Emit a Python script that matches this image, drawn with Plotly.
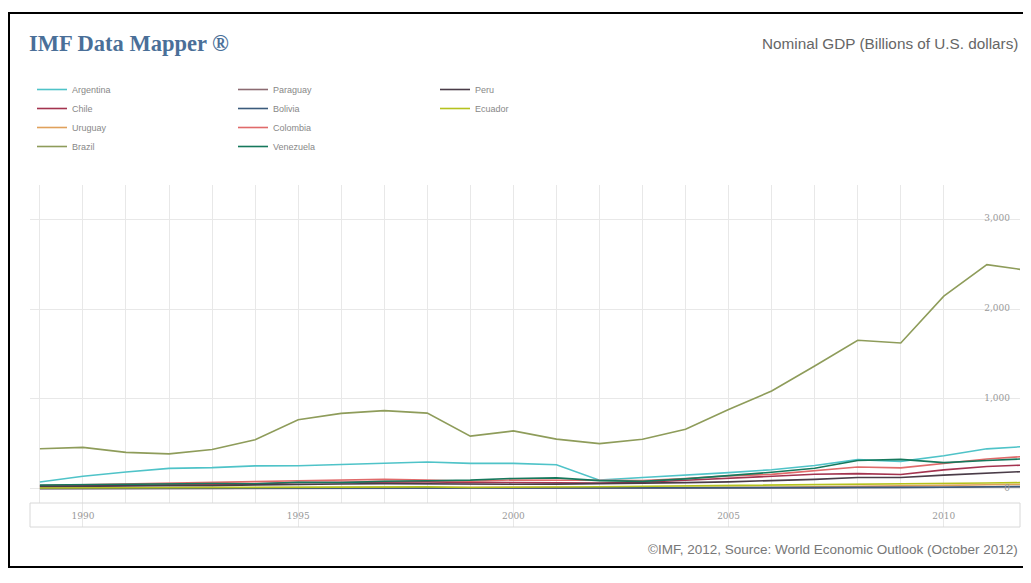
import plotly.graph_objects as go

years = list(range(1989, 2013))

argentina = [77, 141, 189, 229, 237, 257, 258, 272, 293, 299, 284, 284, 269, 98, 128, 152, 182, 214, 260, 326, 307, 369, 446, 475]
chile = [29, 33, 37, 45, 47, 56, 72, 76, 83, 79, 73, 75, 69, 67, 74, 96, 118, 146, 164, 171, 160, 212, 249, 268]
uruguay = [8.4, 9.3, 11.2, 12.9, 15.0, 17.5, 19.3, 20.5, 21.7, 22.4, 21.0, 20.1, 18.6, 12.1, 11.2, 13.7, 17.4, 19.6, 23.4, 30.4, 31.7, 39.4, 46.9, 50.0]
brazil = [447, 462, 407, 390, 438, 546, 769, 840, 871, 843, 587, 645, 554, 504, 553, 663, 882, 1089, 1366, 1653, 1622, 2143, 2493, 2425]
paraguay = [4.0, 5.3, 6.3, 6.4, 6.6, 7.6, 8.8, 9.4, 9.6, 8.8, 7.8, 7.7, 7.0, 5.1, 5.6, 7.0, 7.5, 9.3, 12.2, 16.9, 14.2, 18.3, 23.8, 25.5]
bolivia = [4.7, 4.9, 5.3, 5.6, 5.7, 6.0, 6.7, 7.4, 7.9, 8.5, 8.3, 8.4, 8.2, 7.9, 8.1, 8.8, 9.5, 11.5, 13.1, 16.7, 17.3, 19.8, 24.0, 26.7]
colombia = [39, 47, 49, 58, 66, 81, 92, 97, 106, 98, 86, 100, 98, 97, 94, 117, 146, 162, 207, 244, 234, 287, 333, 366]
venezuela = [43, 48, 53, 60, 60, 58, 75, 70, 86, 91, 98, 117, 123, 93, 84, 112, 146, 185, 230, 316, 329, 293, 316, 338]
peru = [26, 26, 34, 36, 35, 45, 53, 55, 59, 56, 51, 53, 54, 57, 61, 70, 79, 92, 107, 127, 127, 154, 177, 197]
ecuador = [11.4, 12.3, 13.4, 14.3, 16.0, 19.2, 20.2, 21.3, 24.0, 23.3, 16.7, 15.9, 21.3, 24.9, 28.6, 32.6, 37.2, 41.7, 45.5, 54.2, 52.0, 57.9, 65.9, 71.6]

y_tickvals = [0, 1000, 2000, 3000]
y_ticktext = ["0", "1,000", "2,000", "3,000"]
x_tickvals = [1990, 1995, 2000, 2005, 2010]
x_ticktext = ["1990", "1995", "2000", "2005", "2010"]

series = [
    ("Argentina", argentina, "#4fc3c8", "legend"),
    ("Chile", chile, "#a3334f", "legend"),
    ("Uruguay", uruguay, "#e0a15c", "legend"),
    ("Brazil", brazil, "#8e9c5a", "legend"),
    ("Paraguay", paraguay, "#8c6b72", "legend2"),
    ("Bolivia", bolivia, "#3b5b7c", "legend2"),
    ("Colombia", colombia, "#e06a6a", "legend2"),
    ("Venezuela", venezuela, "#16785c", "legend2"),
    ("Peru", peru, "#4a3c48", "legend3"),
    ("Ecuador", ecuador, "#b5c21e", "legend3"),
]

W, H = 1031, 583
OFF = 8  # page body margin
def px(v):
    return (v - OFF) / W
def py(v):
    return 1 - (v - OFF) / H

fig = go.Figure()
for name, vals, color, lg in series:
    fig.add_trace(go.Scatter(
        x=years, y=vals, name=name, mode="lines",
        line=dict(color=color, width=1.6),
        legend=lg, xaxis="x", yaxis="y",
    ))

fig.add_trace(go.Scatter(x=[1989, 2012], y=[0, 0], mode="lines",
                         line=dict(width=0), showlegend=False,
                         xaxis="x2", yaxis="y2", hoverinfo="skip"))

grid = "#e8e8e8"
x0d, x1d = px(30), px(1020)
fig.update_layout(
    width=W, height=H,
    margin=dict(l=0, r=0, t=0, b=0),
    paper_bgcolor="white", plot_bgcolor="white",
    showlegend=True,
    xaxis=dict(domain=[x0d, x1d], range=[1988.77, 2011.77], anchor="y",
               tickmode="linear", tick0=1989, dtick=1, showgrid=True,
               gridcolor=grid, gridwidth=1, showticklabels=False,
               zeroline=False, showline=False, ticks=""),
    yaxis=dict(domain=[py(503), py(185)], range=[-156, 3378], anchor="x",
               side="right", tickvals=y_tickvals, ticktext=y_ticktext,
               ticklabelposition="inside top", ticklabelstandoff=7,
               ticklabelshift=5,
               showgrid=True, gridcolor=grid, zeroline=False, ticks="",
               tickfont=dict(family="DejaVu Serif, serif", size=9, color="#999999")),
    xaxis2=dict(domain=[x0d, x1d], range=[1988.77, 2011.77], anchor="y2",
                matches="x", tickmode="array", tickvals=x_tickvals,
                ticktext=x_ticktext, showgrid=True, gridcolor=grid,
                ticklabelposition="inside", ticklabelstandoff=3,
                ticks="", zeroline=False, showline=False,
                tickfont=dict(family="DejaVu Serif, serif", size=9, color="#999999")),
    yaxis2=dict(domain=[py(527), py(503)], range=[0, 1], anchor="x2",
                showgrid=False, showticklabels=False, zeroline=False, ticks=""),
)

legend_common = dict(orientation="v", xanchor="left", yanchor="top",
                     bgcolor="rgba(0,0,0,0)", tracegroupgap=0,
                     font=dict(family="Liberation Sans, Arial, sans-serif", size=9, color="#888888"))
fig.update_layout(
    legend=dict(x=px(32), y=py(75), **legend_common),
    legend2=dict(x=px(233), y=py(75), **legend_common),
    legend3=dict(x=px(435), y=py(75), **legend_common),
)

fig.add_annotation(text="<b>IMF Data Mapper ®</b>", xref="paper", yref="paper",
                   x=px(27), y=py(43), xanchor="left", yanchor="middle", showarrow=False,
                   font=dict(family="Liberation Serif, Times New Roman, serif", size=22.5, color="#4a6f98"))
fig.add_annotation(text="Nominal GDP (Billions of U.S. dollars)", xref="paper", yref="paper",
                   x=px(1020), y=py(43), xanchor="right", yanchor="middle", showarrow=False,
                   font=dict(family="Liberation Sans, Arial, sans-serif", size=15.3, color="#666666"))
fig.add_annotation(text="©IMF, 2012, Source: World Economic Outlook (October 2012)", xref="paper", yref="paper",
                   x=px(1020), y=py(549), xanchor="right", yanchor="middle", showarrow=False,
                   font=dict(family="Liberation Sans, Arial, sans-serif", size=13.5, color="#777777"))

fig.add_shape(type="rect", xref="paper", yref="paper",
              x0=px(30), x1=px(1020), y0=py(527), y1=py(503),
              line=dict(color="#d8d8d8", width=1), fillcolor="rgba(0,0,0,0)", layer="above")
fig.add_shape(type="rect", xref="paper", yref="paper",
              x0=px(9), x1=px(1045), y0=py(567), y1=py(13),
              line=dict(color="black", width=2), fillcolor="rgba(0,0,0,0)")

fig.write_html("out.html")
